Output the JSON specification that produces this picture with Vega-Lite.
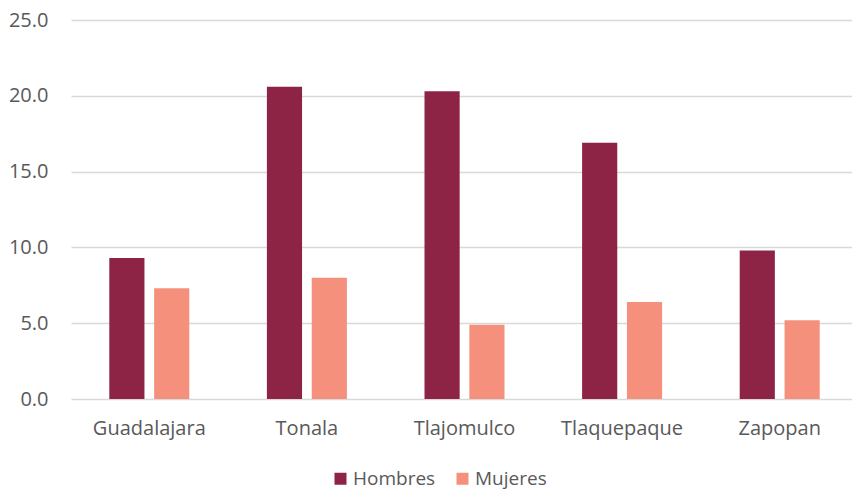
{
  "$schema": "https://vega.github.io/schema/vega-lite/v6.json",
  "width": 779,
  "height": 379,
  "autosize": {"type": "none"},
  "padding": {"left": 71, "top": 20, "right": 2, "bottom": 91},
  "background": "white",
  "data": {
    "values": [
      {"municipio": "Guadalajara", "sexo": "Hombres", "valor": 9.3},
      {"municipio": "Guadalajara", "sexo": "Mujeres", "valor": 7.3},
      {"municipio": "Tonala", "sexo": "Hombres", "valor": 20.6},
      {"municipio": "Tonala", "sexo": "Mujeres", "valor": 8.0},
      {"municipio": "Tlajomulco", "sexo": "Hombres", "valor": 20.3},
      {"municipio": "Tlajomulco", "sexo": "Mujeres", "valor": 4.9},
      {"municipio": "Tlaquepaque", "sexo": "Hombres", "valor": 16.9},
      {"municipio": "Tlaquepaque", "sexo": "Mujeres", "valor": 6.4},
      {"municipio": "Zapopan", "sexo": "Hombres", "valor": 9.8},
      {"municipio": "Zapopan", "sexo": "Mujeres", "valor": 5.2}
    ]
  },
  "config": {
    "view": {"stroke": null},
    "font": "Open Sans",
    "axis": {"labelFont": "Open Sans", "labelColor": "#595959", "labelFontSize": 20}
  },
  "mark": {"type": "bar"},
  "encoding": {
    "x": {
      "field": "municipio",
      "type": "nominal",
      "sort": ["Guadalajara", "Tonala", "Tlajomulco", "Tlaquepaque", "Zapopan"],
      "scale": {"range": [0, 787], "paddingInner": 0.4924, "paddingOuter": 0.243},
      "axis": {
        "title": null,
        "labelAngle": 0,
        "ticks": false,
        "domain": false,
        "labelPadding": 19
      }
    },
    "xOffset": {
      "field": "sexo",
      "type": "nominal",
      "sort": ["Hombres", "Mujeres"],
      "scale": {"paddingInner": 0.216, "paddingOuter": 0}
    },
    "y": {
      "field": "valor",
      "type": "quantitative",
      "scale": {"domain": [0, 25], "nice": false},
      "axis": {
        "title": null,
        "values": [0, 5, 10, 15, 20, 25],
        "format": ".1f",
        "ticks": false,
        "domain": false,
        "labelPadding": 23,
        "gridColor": "#d9d9d9",
        "gridWidth": 1.3
      }
    },
    "color": {
      "field": "sexo",
      "type": "nominal",
      "sort": ["Hombres", "Mujeres"],
      "scale": {"domain": ["Hombres", "Mujeres"], "range": ["#8d2445", "#f4907c"]},
      "legend": {
        "title": null,
        "orient": "none",
        "direction": "horizontal",
        "legendX": 260,
        "legendY": 449,
        "symbolType": "square",
        "symbolSize": 144,
        "symbolStrokeWidth": 0,
        "symbolOpacity": 1,
        "labelFont": "Open Sans",
        "labelFontSize": 19,
        "labelColor": "#595959",
        "labelOffset": 3,
        "columnPadding": 17
      }
    }
  }
}
